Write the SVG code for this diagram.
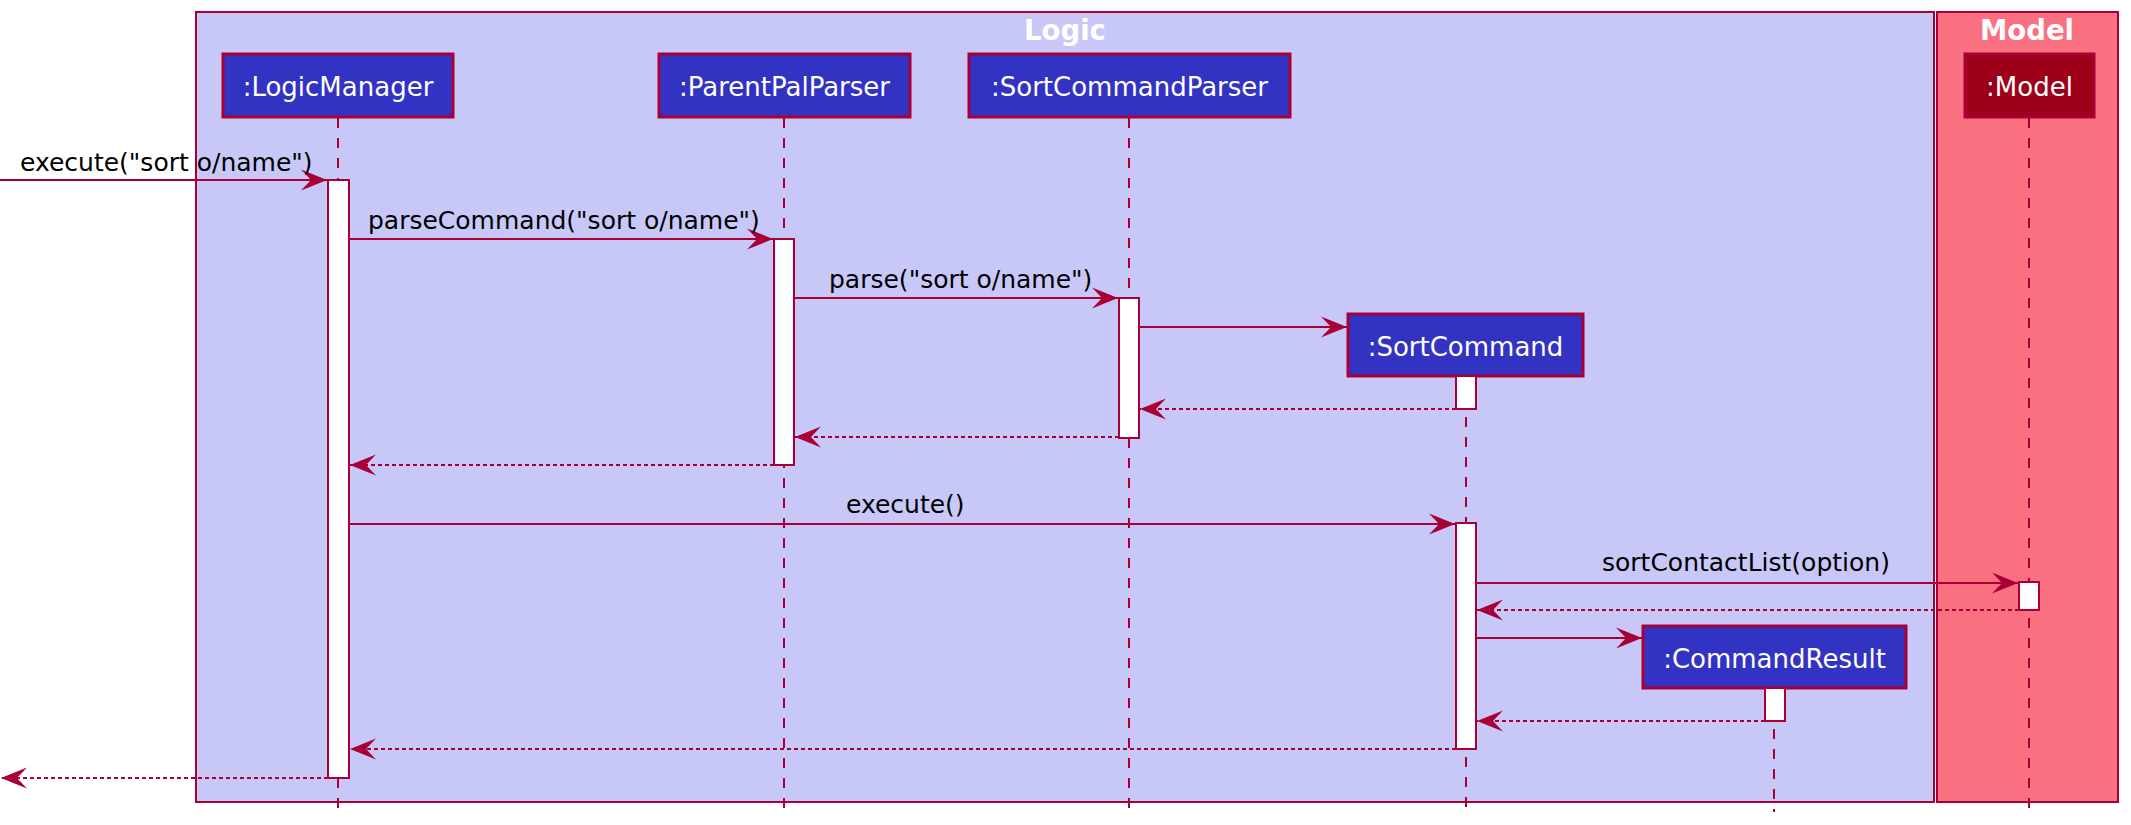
<svg xmlns="http://www.w3.org/2000/svg" width="2131" height="825" viewBox="0 0 2131 825">
<style>
.frame{stroke:#A80036;stroke-width:2}
.ptext{font-family:"DejaVu Sans",sans-serif;font-size:26px;fill:#FFFFFF;text-anchor:middle}
.ftitle{font-family:"DejaVu Sans",sans-serif;font-size:27.5px;font-weight:bold;fill:#FFFFFF;text-anchor:middle}
.part{fill:#3333C3;stroke:#A80036;stroke-width:3}
.life{stroke:#A80036;stroke-width:2;stroke-dasharray:10,10;fill:none}
.act{fill:#FFFFFF;stroke:#A80036;stroke-width:2}
.msg{stroke:#A80036;stroke-width:2;fill:none}
.ret{stroke:#A80036;stroke-width:2;fill:none;stroke-dasharray:4,3}
.mlabel{font-family:"DejaVu Sans",sans-serif;font-size:25px;fill:#000000}
</style>
<defs>
<marker id="ah" viewBox="-27 -12 28 24" refX="0" refY="0" markerWidth="28" markerHeight="24" markerUnits="userSpaceOnUse" orient="auto">
<path d="M0,0 L-26,-10.5 L-16,0 L-26,10.5 Z" fill="#A80036"/>
</marker>
</defs>
<rect width="2131" height="825" fill="#FFFFFF"/>
<g id="frame-logic">
<rect class="frame" x="196" y="12" width="1738" height="790" fill="#C8C8F8"/>
<text class="ftitle" x="1065" y="40">Logic</text>
</g>
<g id="frame-model">
<rect class="frame" x="1937" y="12" width="181" height="790" fill="#F97181"/>
<text class="ftitle" x="2027" y="40">Model</text>
</g>
<g id="lifelines">
<line class="life" x1="338" y1="118" x2="338" y2="812"/>
<line class="life" x1="784" y1="118" x2="784" y2="812"/>
<line class="life" x1="1129" y1="118" x2="1129" y2="812"/>
<line class="life" x1="1466" y1="377" x2="1466" y2="812"/>
<line class="life" x1="1774" y1="689" x2="1774" y2="812"/>
<line class="life" x1="2029" y1="118" x2="2029" y2="812"/>
</g>
<g id="LogicManager">
<rect class="part" x="223" y="54" width="230" height="63"/>
<text class="ptext" x="338" y="96">:LogicManager</text>
</g>
<g id="ParentPalParser">
<rect class="part" x="659" y="54" width="251" height="63"/>
<text class="ptext" x="784.5" y="96">:ParentPalParser</text>
</g>
<g id="SortCommandParser">
<rect class="part" x="969" y="54" width="321" height="63"/>
<text class="ptext" x="1129.5" y="96">:SortCommandParser</text>
</g>
<g id="Model">
<rect class="part" x="1965" y="54" width="129" height="63" style="fill:#9D0019"/>
<text class="ptext" x="2029.5" y="96">:Model</text>
</g>
<g id="SortCommand">
<rect class="part" x="1348" y="314" width="235" height="62"/>
<text class="ptext" x="1465.5" y="356">:SortCommand</text>
</g>
<g id="CommandResult">
<rect class="part" x="1643" y="626" width="263" height="62"/>
<text class="ptext" x="1774.5" y="668">:CommandResult</text>
</g>
<g id="activations">
<rect class="act" x="328" y="180" width="21" height="598"/>
<rect class="act" x="774" y="239" width="20" height="226"/>
<rect class="act" x="1119" y="298" width="20" height="140"/>
<rect class="act" x="1456" y="376" width="20" height="33"/>
<rect class="act" x="1456" y="523" width="20" height="226"/>
<rect class="act" x="2019" y="582" width="20" height="28"/>
<rect class="act" x="1765" y="688" width="20" height="33"/>
</g>
<g id="connectors">
<line class="msg" x1="0" y1="180" x2="327" y2="180" marker-end="url(#ah)"/>
<text class="mlabel" x="20" y="171">execute("sort o/name")</text>
<line class="msg" x1="349" y1="239" x2="773" y2="239" marker-end="url(#ah)"/>
<text class="mlabel" x="368" y="229">parseCommand("sort o/name")</text>
<line class="msg" x1="794" y1="298" x2="1118" y2="298" marker-end="url(#ah)"/>
<text class="mlabel" x="829" y="288">parse("sort o/name")</text>
<line class="msg" x1="1139" y1="327" x2="1347" y2="327" marker-end="url(#ah)"/>
<line class="ret" x1="1456" y1="409" x2="1140" y2="409" marker-end="url(#ah)"/>
<line class="ret" x1="1119" y1="437" x2="795" y2="437" marker-end="url(#ah)"/>
<line class="ret" x1="774" y1="465" x2="350" y2="465" marker-end="url(#ah)"/>
<line class="msg" x1="349" y1="524" x2="1455" y2="524" marker-end="url(#ah)"/>
<text class="mlabel" x="846" y="513">execute()</text>
<line class="msg" x1="1476" y1="583" x2="2018" y2="583" marker-end="url(#ah)"/>
<text class="mlabel" x="1602" y="571">sortContactList(option)</text>
<line class="ret" x1="2019" y1="610" x2="1477" y2="610" marker-end="url(#ah)"/>
<line class="msg" x1="1476" y1="638" x2="1642" y2="638" marker-end="url(#ah)"/>
<line class="ret" x1="1765" y1="721" x2="1477" y2="721" marker-end="url(#ah)"/>
<line class="ret" x1="1456" y1="749" x2="350" y2="749" marker-end="url(#ah)"/>
<line class="ret" x1="328" y1="778" x2="1" y2="778" marker-end="url(#ah)"/>
</g>
</svg>
